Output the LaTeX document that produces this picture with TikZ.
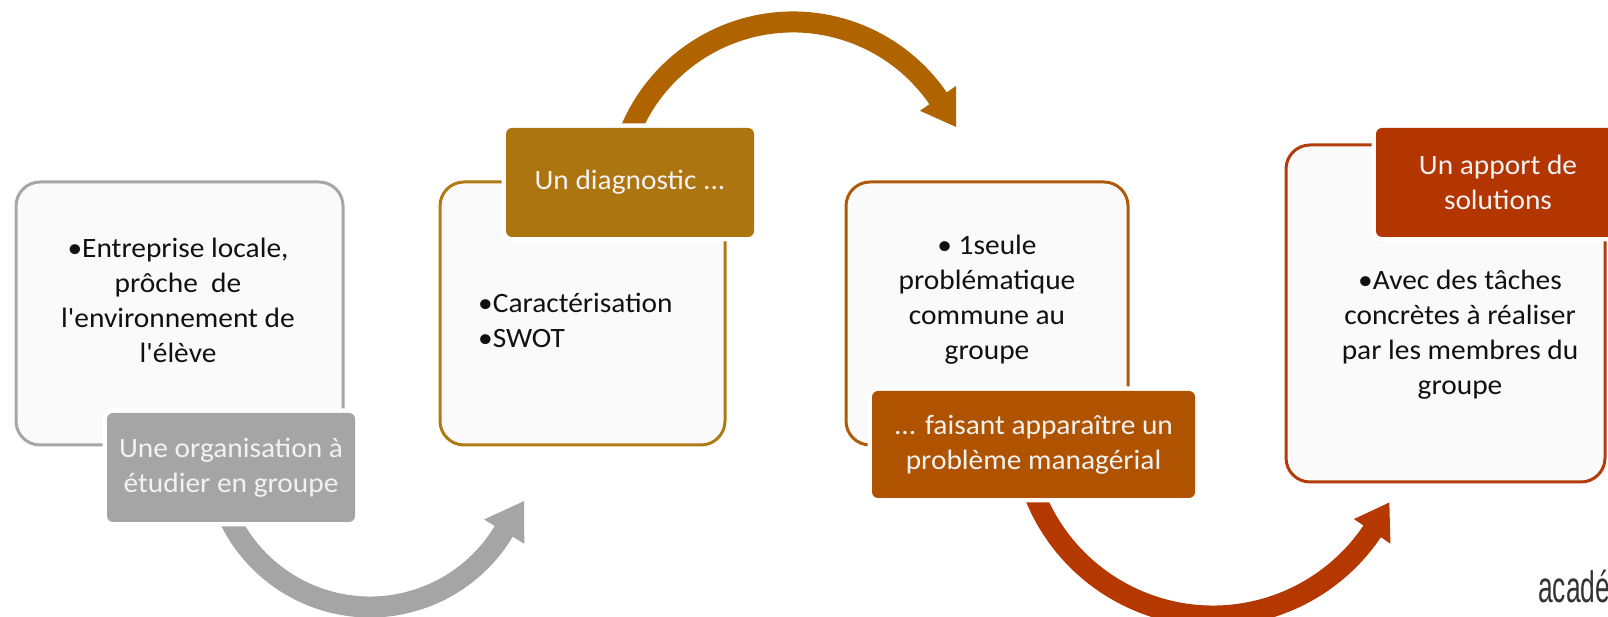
\documentclass[tikz,border=0pt]{standalone}
\usepackage{fontspec}
\usepackage{graphicx}
\setmainfont{Carlito}[Ligatures=TeXOff, FakeStretch=1.05]
\newfontfamily\logofont{Liberation Sans}
\definecolor{boxfill}{HTML}{FAFAFA}
\definecolor{bordA}{HTML}{A6A6A6}
\definecolor{labA}{HTML}{A5A5A5}
\definecolor{arrA}{HTML}{A5A5A5}
\definecolor{bordB}{HTML}{AE7A14}
\definecolor{labB}{HTML}{AD7510}
\definecolor{arrB}{HTML}{AF6400}
\definecolor{bordC}{HTML}{AF5A0A}
\definecolor{labC}{HTML}{AF5300}
\definecolor{arrC}{HTML}{B53800}
\definecolor{bordD}{HTML}{B33C0A}
\definecolor{labD}{HTML}{B33500}
\definecolor{labtext}{HTML}{F2F2F2}
\definecolor{txtcol}{HTML}{111111}
\definecolor{logocol}{HTML}{333333}
\newcommand{\bodyfnt}{\fontsize{28}{35}\selectfont}
\begin{document}
\begin{tikzpicture}[x=1pt,y=1pt,
  box/.style={draw=#1, line width=3pt, fill=boxfill, rounded corners=24pt, inner sep=0pt},
  lab/.style={fill=#1, rounded corners=6pt, text=labtext, align=center, inner sep=0pt,
              font=\bodyfnt, preaction={draw=white, line width=9pt}},
  txt/.style={align=center, text=txtcol, inner sep=0pt, font=\bodyfnt},
  arrowbody/.style={line width=21pt, draw=#1},
]
\useasboundingbox (0,0) rectangle (1608,617);
\clip (0,0) rectangle (1608,617);
\fill[white] (0,0) rectangle (1608,617);

% boxes
\node[box=bordA, minimum width=327pt, minimum height=263pt] (box1) at (179.5,303.5) {};
\node[box=bordB, minimum width=285pt, minimum height=263pt] (box2) at (582.5,303.5) {};
\node[box=bordC, minimum width=282pt, minimum height=263pt] (box3) at (987,303.5) {};
\node[box=bordD, minimum width=319pt, minimum height=337pt] (box4) at (1445.5,303.5) {};

% arrows
\coordinate (a1c) at (370,166);
\coordinate (a2c) at (793,419);
\coordinate (a3c) at (1213,193);
\draw[arrowbody=arrA] (a1c) ++(200:156) arc[start angle=200, end angle=330, radius=156];
\begin{scope}[shift={(a1c)}]
  \fill[arrA] (329:133) -- (342:162) -- (329:180) -- cycle;
\end{scope}
\draw[arrowbody=arrB] (a2c) ++(160:176) arc[start angle=160, end angle=34, radius=176];
\begin{scope}[shift={(a2c)}]
  \fill[arrB] (34.5:154) -- (23.5:178) -- (34.5:198) -- cycle;
\end{scope}
\draw[arrowbody=arrC] (a3c) ++(198:192) arc[start angle=198, end angle=327, radius=192];
\begin{scope}[shift={(a3c)}]
  \fill[arrC] (326:170) -- (336:193) -- (326:214) -- cycle;
\end{scope}

% labels
\node[lab=labA, minimum width=248pt, minimum height=109pt] (lab1) at (231,149.5) {Une organisation à\\étudier en groupe};
\node[lab=labB, minimum width=248pt, minimum height=109pt] (lab2) at (630,434.5) {Un diagnostic ...};
\node[lab=labC, minimum width=323pt, minimum height=107pt] (lab3) at (1033.5,172.5) {... faisant apparaître un\\problème managérial};
\node[lab=labD, minimum width=244pt, minimum height=109pt] (lab4) at (1498,434.5) {Un apport de\\solutions};

% texts
\node[txt] (t1) at (178,317) {•Entreprise locale,\\prôche~~de\\l'environnement de\\l'élève};
\node[txt, align=left, anchor=west] (t2) at (478,297) {•Caractérisation\\•SWOT};
\node[txt] (t3) at (987,317) {• 1seule\\problématique\\commune au\\groupe};
\node[txt] (t4) at (1460,282) {•Avec des tâches\\concrètes à réaliser\\par les membres du\\groupe};

% logo
\node[anchor=base west, inner sep=0pt, text=logocol, font=\logofont\fontsize{44}{44}\selectfont] (logo) at (1538,14) {\scalebox{0.6}[1]{acadé}};
\end{tikzpicture}
\end{document}
